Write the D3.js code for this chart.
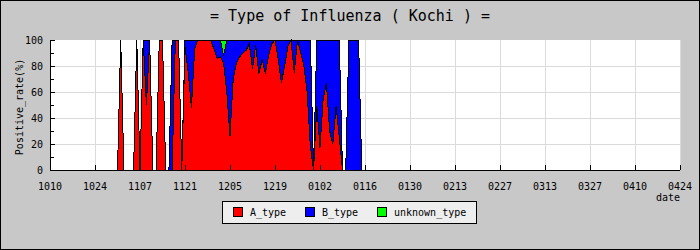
<!DOCTYPE html>
<html>
<head>
<meta charset="utf-8">
<script src="https://cdn.jsdelivr.net/npm/d3@7"></script>
<style>
html,body{margin:0;padding:0;background:#c8c8c8;}
svg{display:block;}
text{font-family:"DejaVu Sans Mono","Liberation Mono",monospace;fill:#000;}
</style>
</head>
<body>
<svg id="chart" width="700" height="250"></svg>
<script>
const title = "= Type of Influenza ( Kochi ) =";
const yTitle = "Positive_rate(%)";
const xTitle = "date";
const xTickLabels = ["1010","1024","1107","1121","1205","1219","0102","0116","0130","0213","0227","0313","0327","0410","0424"];
const yTickValues = [0,20,40,60,80,100];
const seriesNames = ["A_type","B_type","unknown_type"];
const seriesColors = ["#ff0000","#0000ff","#00ff00"];

const dates = ["1030","1031",
"1101","1102","1103","1104","1105","1106","1107","1108","1109","1110",
"1111","1112","1113","1114","1115","1116","1117","1118","1119","1120",
"1121","1122","1123","1124","1125","1126","1127","1128","1129","1130",
"1201","1202","1203","1204","1205","1206","1207","1208","1209","1210",
"1211","1212","1213","1214","1215","1216","1217","1218","1219","1220",
"1221","1222","1223","1224","1225","1226","1227","1228","1229","1230","1231",
"0101","0102","0103","0104","0105","0106","0107","0108","0109","0110",
"0111","0112","0113","0114","0115","0116"];

const aType = [0,0,100,0,0,0,0,100,0,100,
50,100,0,0,100,100,0,0,0,100,
100,0,95,75,48,93,100,100,100,100,
100,93,86,87,82,60,26,70,82,87,
90,92,97,78,96,74,85,74,88,97,
100,85,67,80,95,100,75,100,90,80,
60,18,0,49,17,55,67,30,20,49,
25,0,0,0,0,0,0,0,0];

const bType = [0,0,0,0,0,0,0,0,0,0,
50,0,0,0,0,0,0,0,100,0,
0,0,5,25,52,7,0,0,0,0,
0,7,14,13,6,40,74,30,18,13,
10,8,3,22,4,26,15,26,12,3,
0,15,33,20,5,0,25,0,10,20,
40,82,0,51,83,45,33,70,80,51,
75,0,0,100,100,100,100,0,0];

const unknownType = [0,0,0,0,0,0,0,0,0,0,
0,0,0,0,0,0,0,0,0,0,
0,0,0,0,0,0,0,0,0,0,
0,0,0,0,12,0,0,0,0,0,
0,0,0,0,0,0,0,0,0,0,
0,0,0,0,0,0,0,0,0,0,
0,0,0,0,0,0,0,0,0,0,
0,0,0,0,0,0,0,0,0];

function parseMD(s){
  const m = +s.slice(0,2), d = +s.slice(2);
  return new Date(Date.UTC(m >= 7 ? 2010 : 2011, m-1, d));
}

const W = 700, H = 250;
const L = 50, R = 680, T = 40, B = 170;
const svg = d3.select("#chart");

svg.append("rect").attr("x",0.5).attr("y",0.5).attr("width",W-1).attr("height",H-1)
  .attr("fill","#c8c8c8").attr("stroke","#000").attr("shape-rendering","crispEdges");

const x = d3.scaleUtc().domain([parseMD(xTickLabels[0]), parseMD(xTickLabels[xTickLabels.length-1])]).range([L,R]);
const y = d3.scaleLinear().domain([0,100]).range([B,T]);

svg.append("rect").attr("x",L).attr("y",T).attr("width",R-L).attr("height",B-T).attr("fill","#fff");

// grid
const grid = svg.append("g").attr("stroke","#dadada").attr("shape-rendering","crispEdges");
yTickValues.filter(v=>v>0 && v<100).forEach(v=>{
  grid.append("line").attr("x1",L).attr("x2",R).attr("y1",Math.round(y(v))+0.5).attr("y2",Math.round(y(v))+0.5);
});
xTickLabels.slice(1).forEach(s=>{
  const px = Math.round(x(parseMD(s)))+0.5;
  grid.append("line").attr("x1",px).attr("x2",px).attr("y1",T).attr("y2",B);
});

// data
const rows = dates.map((d,i)=>({date:parseMD(d), A:aType[i], B:bType[i], U:unknownType[i]}));
const stack = d3.stack().keys(["A","B","U"])(rows);

const area = d3.area().x(d=>x(d.data.date)).y0(d=>y(d[0])).y1(d=>y(d[1]));
const line = d3.line().x(d=>x(d.data.date)).y(d=>y(d[1]));

const g = svg.append("g").attr("shape-rendering","crispEdges");
stack.forEach((s,i)=>{
  g.append("path").attr("d",area(s)).attr("fill",seriesColors[i]).attr("stroke","none");
});
stack.forEach((s,i)=>{
  g.append("path").attr("d",line(s)).attr("fill","none").attr("stroke","#000").attr("stroke-width",1);
});

// axes
const ax = svg.append("g").attr("stroke","#000").attr("shape-rendering","crispEdges");
ax.append("line").attr("x1",L+0.5).attr("x2",L+0.5).attr("y1",T).attr("y2",B+1);
ax.append("line").attr("x1",L).attr("x2",R).attr("y1",B+0.5).attr("y2",B+0.5);
yTickValues.forEach(v=>{
  const py = Math.round(y(v))+0.5;
  ax.append("line").attr("x1",L).attr("x2",L+5).attr("y1",py).attr("y2",py);
});
yTickValues.slice(0,-1).forEach(v=>{
  const py = Math.round(y(v+10))+0.5;
  ax.append("line").attr("x1",L).attr("x2",L+4).attr("y1",py).attr("y2",py);
});
xTickLabels.forEach(s=>{
  const px = Math.round(x(parseMD(s)))+0.5;
  ax.append("line").attr("x1",px).attr("x2",px).attr("y1",B).attr("y2",B-5);
});

// labels
yTickValues.forEach(v=>{
  svg.append("text").attr("x",43).attr("y",y(v)+3.5).attr("text-anchor","end")
    .attr("font-size",10).text(v);
});
xTickLabels.forEach(s=>{
  svg.append("text").attr("x",x(parseMD(s))).attr("y",190).attr("text-anchor","middle")
    .attr("font-size",10).text(s);
});
svg.append("text").attr("x",680).attr("y",201).attr("text-anchor","end").attr("font-size",10).text(xTitle);
svg.append("text").attr("transform","translate(23,107) rotate(-90)").attr("text-anchor","middle")
  .attr("font-size",10).text(yTitle);
svg.append("text").attr("x",350).attr("y",21).attr("text-anchor","middle").attr("font-size",15).text(title);

// legend
const lg = svg.append("g").attr("shape-rendering","crispEdges");
lg.append("rect").attr("x",222.5).attr("y",201.5).attr("width",254).attr("height",22)
  .attr("fill","#eeeeee").attr("stroke","#000");
const legX = [233, 305, 377];
seriesNames.forEach((n,i)=>{
  lg.append("rect").attr("x",legX[i]+0.5).attr("y",207.5).attr("width",9).attr("height",9)
    .attr("fill",seriesColors[i]).attr("stroke","#000");
  svg.append("text").attr("x",legX[i]+17).attr("y",216).attr("font-size",10).text(n);
});
</script>
</body>
</html>
